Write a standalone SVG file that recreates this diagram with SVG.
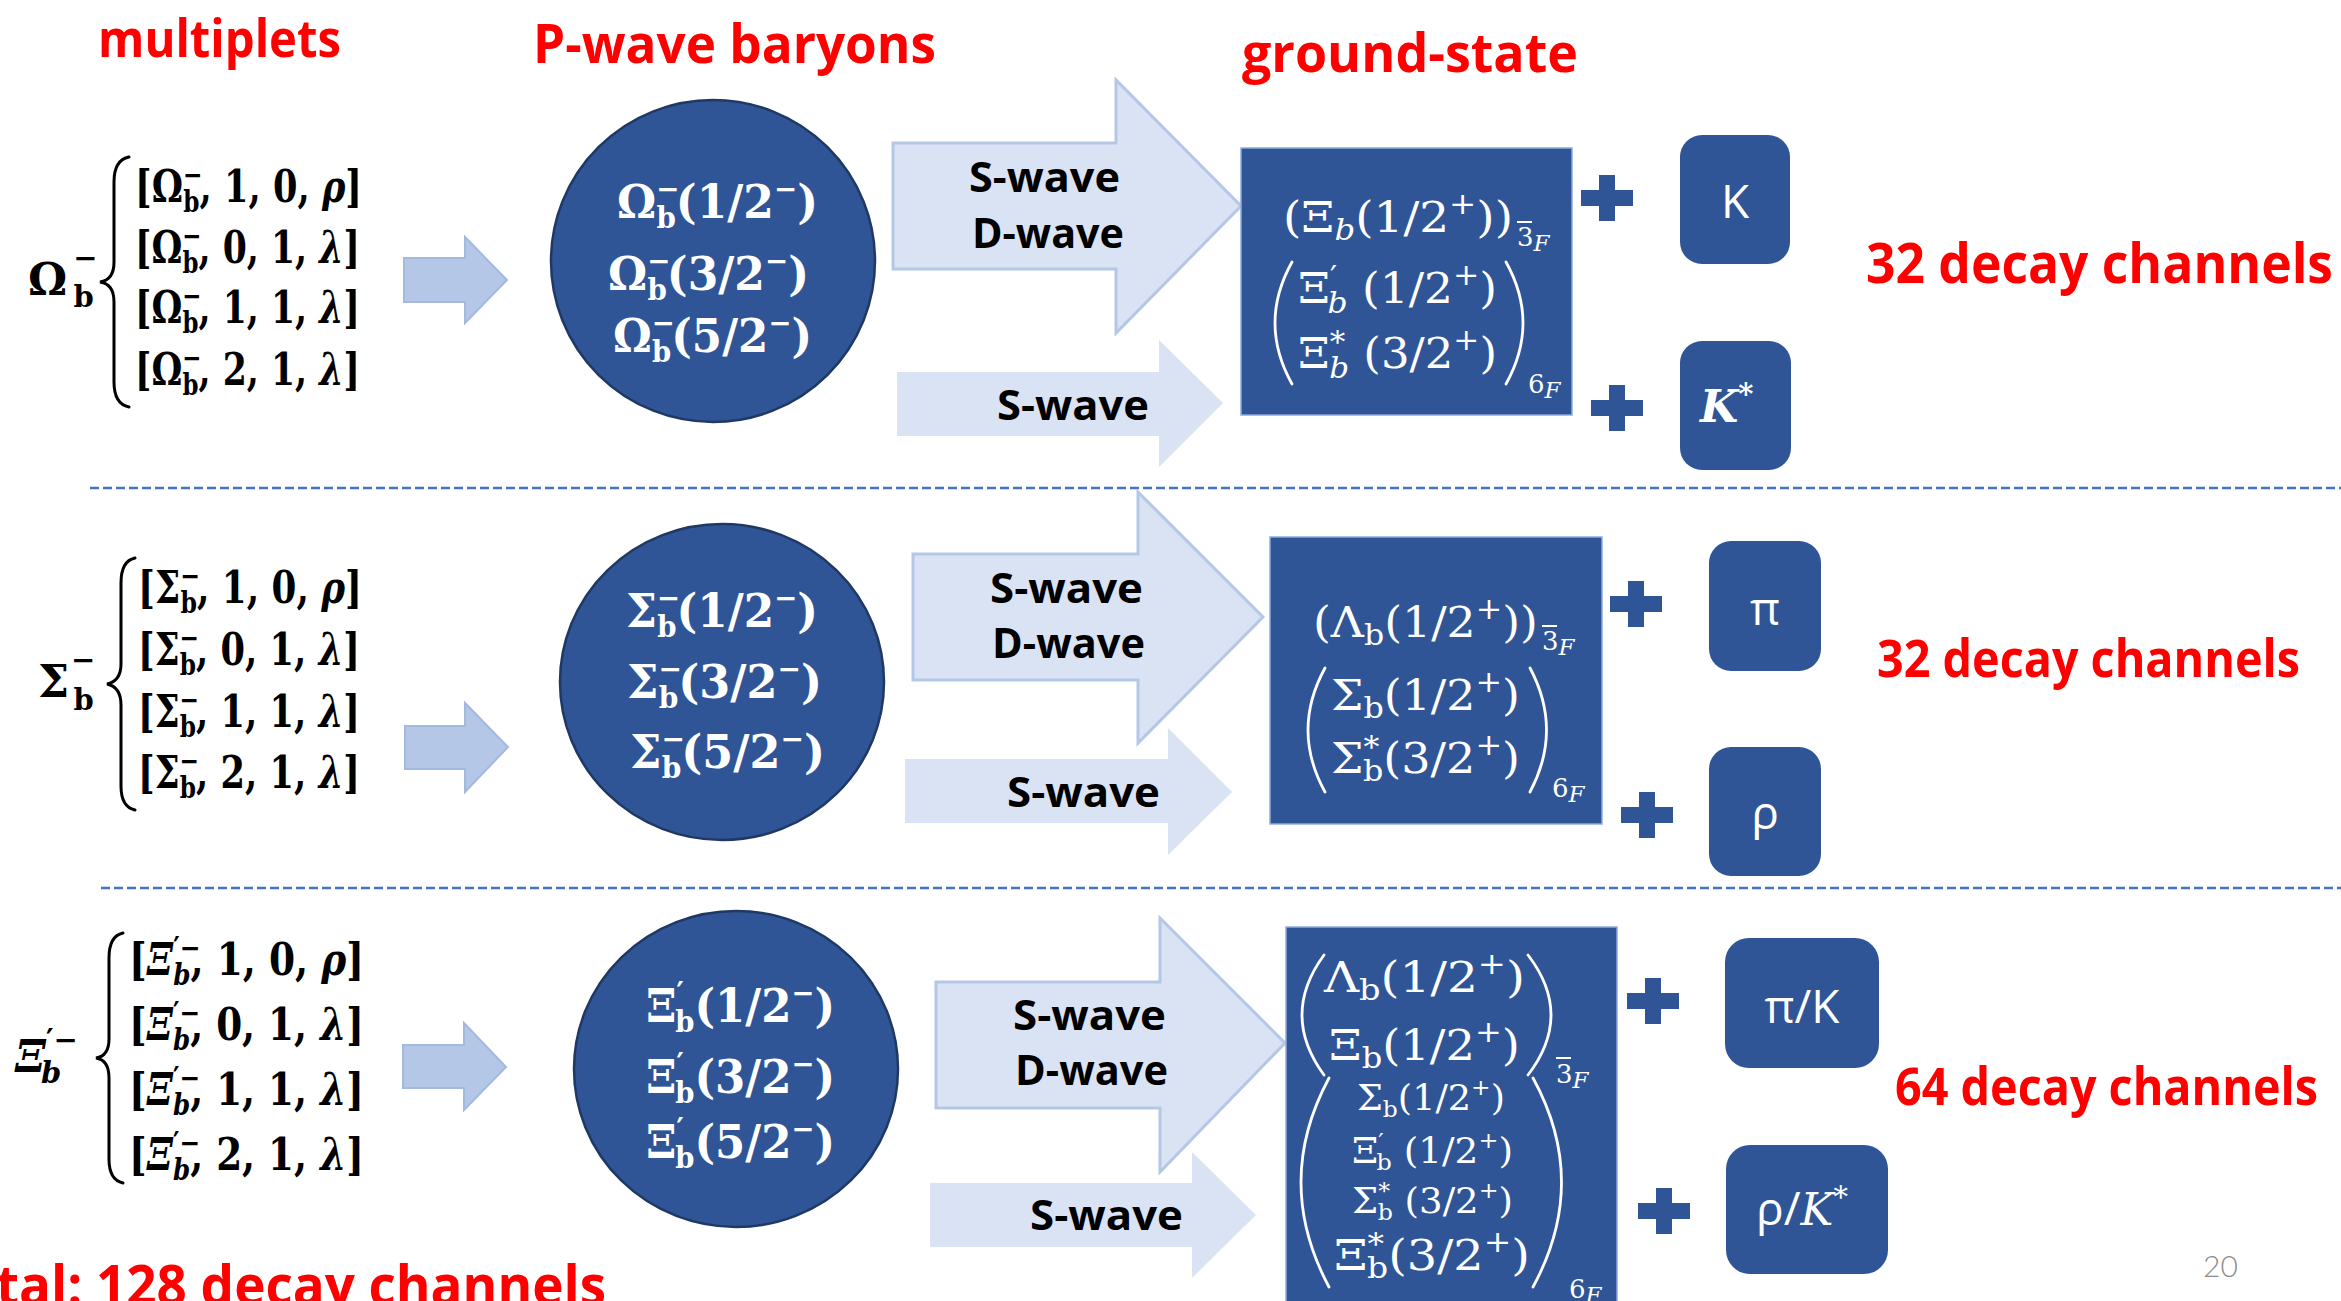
<svg xmlns="http://www.w3.org/2000/svg" width="2341" height="1301" viewBox="0 0 2341 1301">
<style>
.ttl{font-family:"Open Sans","DejaVu Sans",sans-serif;font-weight:700;fill:#FF0000}
.wave{font-family:"Open Sans","DejaVu Sans",sans-serif;font-weight:700;fill:#000;font-size:42px}
.m{font-family:"DejaVu Serif","Liberation Serif",serif}
.lst{font-size:44px;font-weight:700;fill:#000}
.cir{font-size:46px;font-weight:700;fill:#fff}
.bx{font-size:42px;fill:#fff}
.bxs{font-size:36px;fill:#fff}
.s28{font-size:29px}
.s26{font-size:26px}
.s22{font-size:23px}
.it{font-style:italic}
.node{fill:#2F5597}
.circ{fill:#2F5597;stroke:#1F3864;stroke-width:2.5}
.gbox{fill:#2F5597;stroke:#8FAADC;stroke-width:1.5}
.big{fill:#DAE3F3;stroke:#B4C7E7;stroke-width:3}
.small{fill:#DAE3F3}
.left{fill:#B4C7E7;stroke:#A3B9DF;stroke-width:2}
.dash{stroke:#4472C4;stroke-width:2.5;stroke-dasharray:9 4;fill:none}
.delim{fill:none;stroke:#000;stroke-width:3;stroke-linecap:round}
.wdelim{fill:none;stroke:#fff;stroke-width:2.8;stroke-linecap:round}
.meson{font-family:"Open Sans","Lato",sans-serif;fill:#fff;font-size:46px}
.plus{fill:#2F5597}
</style>
<defs>
<path id="plus" d="M-8,-23 H8 V-8 H26 V8 H8 V23 H-8 V8 H-26 V-8 H-8 Z"/>
</defs>

<g id="titles">
<text class="ttl" x="98" y="57" font-size="52" textLength="243" lengthAdjust="spacingAndGlyphs">multiplets</text>
<text class="ttl" x="533" y="63" font-size="54" textLength="403" lengthAdjust="spacingAndGlyphs">P-wave baryons</text>
<text class="ttl" x="1242" y="72" font-size="54" textLength="336" lengthAdjust="spacingAndGlyphs">ground-state</text>
</g>

<g id="separators">
<line class="dash" x1="90" y1="488" x2="2341" y2="488"/>
<line class="dash" x1="101" y1="888" x2="2341" y2="888"/>
</g>

<g id="connectors">
<polygon class="left" points="404,258 465,258 465,237 507,280 465,323 465,302 404,302"/>
<polygon class="left" points="405,726 465,726 465,703 508,747 465,792 465,769 405,769"/>
<polygon class="left" points="403,1045 464,1045 464,1023 506,1067 464,1110 464,1088 403,1088"/>
<polygon class="big" points="893,143 1116,143 1116,80 1241,206 1116,333 1116,269 893,269"/>
<polygon class="small" points="897,372 1159,372 1159,340 1223,403 1159,467 1159,436 897,436"/>
<polygon class="big" points="913,554 1138,554 1138,492 1263,617 1138,743 1138,680 913,680"/>
<polygon class="small" points="905,759 1168,759 1168,728 1232,792 1168,855 1168,823 905,823"/>
<polygon class="big" points="936,982 1160,982 1160,918 1285,1043 1160,1172 1160,1108 936,1108"/>
<polygon class="small" points="930,1183 1192,1183 1192,1152 1256,1215 1192,1278 1192,1247 930,1247"/>
<text class="wave" x="969" y="192" textLength="151" lengthAdjust="spacingAndGlyphs">S-wave</text>
<text class="wave" x="972" y="248" textLength="152" lengthAdjust="spacingAndGlyphs">D-wave</text>
<text class="wave" x="997" y="420" textLength="152" lengthAdjust="spacingAndGlyphs">S-wave</text>
<text class="wave" x="990" y="603" textLength="153" lengthAdjust="spacingAndGlyphs">S-wave</text>
<text class="wave" x="992" y="658" textLength="153" lengthAdjust="spacingAndGlyphs">D-wave</text>
<text class="wave" x="1007" y="807" textLength="153" lengthAdjust="spacingAndGlyphs">S-wave</text>
<text class="wave" x="1013" y="1030" textLength="153" lengthAdjust="spacingAndGlyphs">S-wave</text>
<text class="wave" x="1015" y="1085" textLength="153" lengthAdjust="spacingAndGlyphs">D-wave</text>
<text class="wave" x="1030" y="1230" textLength="153" lengthAdjust="spacingAndGlyphs">S-wave</text>
<use href="#plus" class="plus" x="1607" y="198"/>
<use href="#plus" class="plus" x="1617" y="408"/>
<use href="#plus" class="plus" x="1636" y="604"/>
<use href="#plus" class="plus" x="1647" y="815"/>
<use href="#plus" class="plus" x="1653" y="1001"/>
<use href="#plus" class="plus" x="1664" y="1211"/>
</g>

<!-- Section 1 -->
<g id="multiplet-omega">
<text class="m lst" x="28" y="295">Ω<tspan class="s28" dx="6" dy="-27">−</tspan><tspan class="s28" dx="-24" dy="39">b</tspan></text>
<path class="delim" d="M129,157 Q114,160 114,182 L114,262 Q114,280 100,282 Q114,284 114,302 L114,382 Q114,404 129,407"/>
<text class="m lst" x="135" y="202" textLength="227" lengthAdjust="spacingAndGlyphs">[Ω<tspan class="s28" dy="-17">−</tspan><tspan class="s28" dx="-24" dy="27">b</tspan><tspan dy="-10">, 1, 0, </tspan><tspan class="it">ρ</tspan>]</text>
<text class="m lst" x="135" y="263" textLength="225" lengthAdjust="spacingAndGlyphs">[Ω<tspan class="s28" dy="-17">−</tspan><tspan class="s28" dx="-24" dy="27">b</tspan><tspan dy="-10">, 0, 1, </tspan><tspan class="it">λ</tspan>]</text>
<text class="m lst" x="135" y="323" textLength="225" lengthAdjust="spacingAndGlyphs">[Ω<tspan class="s28" dy="-17">−</tspan><tspan class="s28" dx="-24" dy="27">b</tspan><tspan dy="-10">, 1, 1, </tspan><tspan class="it">λ</tspan>]</text>
<text class="m lst" x="135" y="385" textLength="225" lengthAdjust="spacingAndGlyphs">[Ω<tspan class="s28" dy="-17">−</tspan><tspan class="s28" dx="-24" dy="27">b</tspan><tspan dy="-10">, 2, 1, </tspan><tspan class="it">λ</tspan>]</text>
</g>
<g id="pwave-omega">
<ellipse class="circ" cx="713" cy="261" rx="162" ry="161"/>
<text class="m cir" x="617" y="218" textLength="201" lengthAdjust="spacingAndGlyphs">Ω<tspan class="s28" dy="-19">−</tspan><tspan class="s28" dx="-24" dy="29">b</tspan><tspan dy="-10">(1/2</tspan><tspan class="s28" dy="-19">−</tspan><tspan dy="19">)</tspan></text>
<text class="m cir" x="608" y="290" textLength="201" lengthAdjust="spacingAndGlyphs">Ω<tspan class="s28" dy="-19">−</tspan><tspan class="s28" dx="-24" dy="29">b</tspan><tspan dy="-10">(3/2</tspan><tspan class="s28" dy="-19">−</tspan><tspan dy="19">)</tspan></text>
<text class="m cir" x="613" y="352" textLength="199" lengthAdjust="spacingAndGlyphs">Ω<tspan class="s28" dy="-19">−</tspan><tspan class="s28" dx="-24" dy="29">b</tspan><tspan dy="-10">(5/2</tspan><tspan class="s28" dy="-19">−</tspan><tspan dy="19">)</tspan></text>
</g>
<g id="ground-xi">
<rect class="gbox" x="1241" y="148" width="331" height="267"/>
<text class="m bx" x="1283" y="232" textLength="230" lengthAdjust="spacingAndGlyphs">(Ξ<tspan class="s28 it" dy="8">b</tspan><tspan dy="-8">(1/2</tspan><tspan class="s28" dy="-18">+</tspan><tspan dy="18">))</tspan></text>
<line x1="1517" y1="222" x2="1532" y2="222" stroke="#fff" stroke-width="2"/>
<text class="m s26" x="1517" y="246" fill="#fff">3<tspan class="s22 it" dy="5">F</tspan></text>
<path class="wdelim" d="M1292,262 Q1258,323 1292,384"/>
<path class="wdelim" d="M1506,262 Q1540,323 1506,384"/>
<text class="m bx" x="1298" y="303" textLength="199" lengthAdjust="spacingAndGlyphs">Ξ<tspan class="s28" dy="-16">′</tspan><tspan class="s28 it" dx="-9" dy="26">b</tspan><tspan dy="-10"> (1/2</tspan><tspan class="s28" dy="-18">+</tspan><tspan dy="18">)</tspan></text>
<text class="m bx" x="1298" y="368" textLength="199" lengthAdjust="spacingAndGlyphs">Ξ<tspan class="s28" dy="-16">*</tspan><tspan class="s28 it" dx="-15" dy="26">b</tspan><tspan dy="-10"> (3/2</tspan><tspan class="s28" dy="-18">+</tspan><tspan dy="18">)</tspan></text>
<text class="m s26" x="1528" y="393" fill="#fff">6<tspan class="s22 it" dy="5">F</tspan></text>
</g>
<g id="meson-K">
<rect class="node" x="1680" y="135" width="110" height="129" rx="22"/>
<text class="meson" x="1735" y="218" text-anchor="middle">K</text>
</g>
<g id="meson-Kstar">
<rect class="node" x="1680" y="341" width="111" height="129" rx="22"/>
<text class="m" x="1700" y="422" fill="#fff" font-size="44" font-weight="700" font-style="italic">K<tspan class="s28" dy="-18">*</tspan></text>
</g>
<text class="ttl" x="1866" y="283" font-size="56" textLength="467" lengthAdjust="spacingAndGlyphs">32 decay channels</text>

<!-- Section 2 -->
<g id="multiplet-sigma">
<text class="m lst" x="38" y="697">Σ<tspan class="s28" dx="2" dy="-27">−</tspan><tspan class="s28" dx="-22" dy="40">b</tspan></text>
<path class="delim" d="M135,558 Q121,561 121,583 L121,664 Q121,681 107,684 Q121,687 121,705 L121,786 Q121,807 135,810"/>
<text class="m lst" x="138" y="603" textLength="224" lengthAdjust="spacingAndGlyphs">[Σ<tspan class="s28" dy="-17">−</tspan><tspan class="s28" dx="-24" dy="27">b</tspan><tspan dy="-10">, 1, 0, </tspan><tspan class="it">ρ</tspan>]</text>
<text class="m lst" x="138" y="665" textLength="222" lengthAdjust="spacingAndGlyphs">[Σ<tspan class="s28" dy="-17">−</tspan><tspan class="s28" dx="-24" dy="27">b</tspan><tspan dy="-10">, 0, 1, </tspan><tspan class="it">λ</tspan>]</text>
<text class="m lst" x="138" y="727" textLength="222" lengthAdjust="spacingAndGlyphs">[Σ<tspan class="s28" dy="-17">−</tspan><tspan class="s28" dx="-24" dy="27">b</tspan><tspan dy="-10">, 1, 1, </tspan><tspan class="it">λ</tspan>]</text>
<text class="m lst" x="138" y="788" textLength="222" lengthAdjust="spacingAndGlyphs">[Σ<tspan class="s28" dy="-17">−</tspan><tspan class="s28" dx="-24" dy="27">b</tspan><tspan dy="-10">, 2, 1, </tspan><tspan class="it">λ</tspan>]</text>
</g>
<g id="pwave-sigma">
<ellipse class="circ" cx="722" cy="682" rx="162" ry="158"/>
<text class="m cir" x="626" y="627" textLength="192" lengthAdjust="spacingAndGlyphs">Σ<tspan class="s28" dy="-19">−</tspan><tspan class="s28" dx="-24" dy="29">b</tspan><tspan dy="-10">(1/2</tspan><tspan class="s28" dy="-19">−</tspan><tspan dy="19">)</tspan></text>
<text class="m cir" x="627" y="698" textLength="195" lengthAdjust="spacingAndGlyphs">Σ<tspan class="s28" dy="-19">−</tspan><tspan class="s28" dx="-24" dy="29">b</tspan><tspan dy="-10">(3/2</tspan><tspan class="s28" dy="-19">−</tspan><tspan dy="19">)</tspan></text>
<text class="m cir" x="630" y="768" textLength="195" lengthAdjust="spacingAndGlyphs">Σ<tspan class="s28" dy="-19">−</tspan><tspan class="s28" dx="-24" dy="29">b</tspan><tspan dy="-10">(5/2</tspan><tspan class="s28" dy="-19">−</tspan><tspan dy="19">)</tspan></text>
</g>
<g id="ground-lambda">
<rect class="gbox" x="1270" y="537" width="332" height="287"/>
<text class="m bx" x="1313" y="637" textLength="225" lengthAdjust="spacingAndGlyphs">(Λ<tspan class="s28" dy="8">b</tspan><tspan dy="-8">(1/2</tspan><tspan class="s28" dy="-18">+</tspan><tspan dy="18">))</tspan></text>
<line x1="1542" y1="626" x2="1557" y2="626" stroke="#fff" stroke-width="2"/>
<text class="m s26" x="1542" y="650" fill="#fff">3<tspan class="s22 it" dy="5">F</tspan></text>
<path class="wdelim" d="M1325,668 Q1291,730 1325,792"/>
<path class="wdelim" d="M1530,668 Q1563,730 1530,792"/>
<text class="m bx" x="1331" y="710" textLength="189" lengthAdjust="spacingAndGlyphs">Σ<tspan class="s28" dy="8">b</tspan><tspan dy="-8">(1/2</tspan><tspan class="s28" dy="-18">+</tspan><tspan dy="18">)</tspan></text>
<text class="m bx" x="1331" y="773" textLength="189" lengthAdjust="spacingAndGlyphs">Σ<tspan class="s28" dy="-16">*</tspan><tspan class="s28" dx="-15" dy="24">b</tspan><tspan dy="-8">(3/2</tspan><tspan class="s28" dy="-18">+</tspan><tspan dy="18">)</tspan></text>
<text class="m s26" x="1552" y="797" fill="#fff">6<tspan class="s22 it" dy="5">F</tspan></text>
</g>
<g id="meson-pi">
<rect class="node" x="1709" y="541" width="112" height="130" rx="22"/>
<text class="meson" x="1765" y="625" text-anchor="middle">π</text>
</g>
<g id="meson-rho">
<rect class="node" x="1709" y="747" width="112" height="129" rx="22"/>
<text class="meson" x="1765" y="829" text-anchor="middle">ρ</text>
</g>
<text class="ttl" x="1877" y="677" font-size="52" textLength="423" lengthAdjust="spacingAndGlyphs">32 decay channels</text>

<!-- Section 3 -->
<g id="multiplet-xiprime">
<text class="m lst" x="15" y="1072"><tspan class="it">Ξ</tspan><tspan class="s28" dx="0" dy="-22">′−</tspan><tspan class="s28 it" dx="-37" dy="33">b</tspan></text>
<path class="delim" d="M123,933 Q109,936 109,958 L109,1039 Q109,1056 96,1058 Q109,1060 109,1078 L109,1159 Q109,1180 123,1183"/>
<text class="m lst" x="129" y="975" textLength="235" lengthAdjust="spacingAndGlyphs">[<tspan class="it">Ξ</tspan><tspan class="s28" dy="-17">′−</tspan><tspan class="s28 it" dx="-32" dy="27">b</tspan><tspan dy="-10">, 1, 0, </tspan><tspan class="it">ρ</tspan>]</text>
<text class="m lst" x="129" y="1040" textLength="235" lengthAdjust="spacingAndGlyphs">[<tspan class="it">Ξ</tspan><tspan class="s28" dy="-17">′−</tspan><tspan class="s28 it" dx="-32" dy="27">b</tspan><tspan dy="-10">, 0, 1, </tspan><tspan class="it">λ</tspan>]</text>
<text class="m lst" x="129" y="1105" textLength="235" lengthAdjust="spacingAndGlyphs">[<tspan class="it">Ξ</tspan><tspan class="s28" dy="-17">′−</tspan><tspan class="s28 it" dx="-32" dy="27">b</tspan><tspan dy="-10">, 1, 1, </tspan><tspan class="it">λ</tspan>]</text>
<text class="m lst" x="129" y="1170" textLength="235" lengthAdjust="spacingAndGlyphs">[<tspan class="it">Ξ</tspan><tspan class="s28" dy="-17">′−</tspan><tspan class="s28 it" dx="-32" dy="27">b</tspan><tspan dy="-10">, 2, 1, </tspan><tspan class="it">λ</tspan>]</text>
</g>
<g id="pwave-xiprime">
<ellipse class="circ" cx="736" cy="1069" rx="162" ry="158"/>
<text class="m cir" x="646" y="1022" textLength="189" lengthAdjust="spacingAndGlyphs">Ξ<tspan class="s28" dy="-19">′</tspan><tspan class="s28" dx="-9" dy="29">b</tspan><tspan dy="-10">(1/2</tspan><tspan class="s28" dy="-19">−</tspan><tspan dy="19">)</tspan></text>
<text class="m cir" x="646" y="1093" textLength="189" lengthAdjust="spacingAndGlyphs">Ξ<tspan class="s28" dy="-19">′</tspan><tspan class="s28" dx="-9" dy="29">b</tspan><tspan dy="-10">(3/2</tspan><tspan class="s28" dy="-19">−</tspan><tspan dy="19">)</tspan></text>
<text class="m cir" x="646" y="1158" textLength="189" lengthAdjust="spacingAndGlyphs">Ξ<tspan class="s28" dy="-19">′</tspan><tspan class="s28" dx="-9" dy="29">b</tspan><tspan dy="-10">(5/2</tspan><tspan class="s28" dy="-19">−</tspan><tspan dy="19">)</tspan></text>
</g>
<g id="ground-mixed">
<rect class="gbox" x="1286" y="927" width="331" height="380"/>
<path class="wdelim" d="M1324,955 Q1280,1015 1324,1075"/>
<path class="wdelim" d="M1528,955 Q1574,1015 1528,1075"/>
<text class="m bx" x="1324" y="992" textLength="201" lengthAdjust="spacingAndGlyphs">Λ<tspan class="s28" dy="8">b</tspan><tspan dy="-8">(1/2</tspan><tspan class="s28" dy="-18">+</tspan><tspan dy="18">)</tspan></text>
<text class="m bx" x="1329" y="1060" textLength="191" lengthAdjust="spacingAndGlyphs">Ξ<tspan class="s28" dy="8">b</tspan><tspan dy="-8">(1/2</tspan><tspan class="s28" dy="-18">+</tspan><tspan dy="18">)</tspan></text>
<line x1="1556" y1="1058" x2="1571" y2="1058" stroke="#fff" stroke-width="2"/>
<text class="m s26" x="1556" y="1083" fill="#fff">3<tspan class="s22 it" dy="5">F</tspan></text>
<path class="wdelim" d="M1329,1078 Q1273,1182 1329,1287"/>
<path class="wdelim" d="M1533,1078 Q1590,1182 1533,1287"/>
<text class="m bxs" x="1357" y="1110" textLength="148" lengthAdjust="spacingAndGlyphs">Σ<tspan class="s22" dy="7">b</tspan><tspan dy="-7">(1/2</tspan><tspan class="s22" dy="-15">+</tspan><tspan dy="15">)</tspan></text>
<text class="m bxs" x="1352" y="1163" textLength="161" lengthAdjust="spacingAndGlyphs">Ξ<tspan class="s22" dy="-14">′</tspan><tspan class="s22" dx="-7" dy="21">b</tspan><tspan dy="-7"> (1/2</tspan><tspan class="s22" dy="-15">+</tspan><tspan dy="15">)</tspan></text>
<text class="m bxs" x="1352" y="1213" textLength="161" lengthAdjust="spacingAndGlyphs">Σ<tspan class="s22" dy="-14">*</tspan><tspan class="s22" dx="-12" dy="21">b</tspan><tspan dy="-7"> (3/2</tspan><tspan class="s22" dy="-15">+</tspan><tspan dy="15">)</tspan></text>
<text class="m bx" x="1334" y="1270" textLength="196" lengthAdjust="spacingAndGlyphs">Ξ<tspan class="s28" dy="-16">*</tspan><tspan class="s28" dx="-15" dy="24">b</tspan><tspan dy="-8">(3/2</tspan><tspan class="s28" dy="-18">+</tspan><tspan dy="18">)</tspan></text>
<text class="m s26" x="1569" y="1298" fill="#fff">6<tspan class="s22 it" dy="5">F</tspan></text>
</g>
<g id="meson-piK">
<rect class="node" x="1725" y="938" width="154" height="130" rx="24"/>
<text class="meson" x="1802" y="1023" text-anchor="middle">π/K</text>
</g>
<g id="meson-rhoKstar">
<rect class="node" x="1726" y="1145" width="162" height="129" rx="24"/>
<text class="meson" x="1756" y="1225">ρ/<tspan class="m" font-style="italic" font-size="44">K</tspan><tspan class="m s28" dy="-18">*</tspan></text>
</g>
<text class="ttl" x="1895" y="1105" font-size="52" textLength="423" lengthAdjust="spacingAndGlyphs">64 decay channels</text>

<text class="ttl" x="-4" y="1305" font-size="56" textLength="610" lengthAdjust="spacingAndGlyphs">tal: 128 decay channels</text>
<text x="2203" y="1277" font-family="Lato, 'Open Sans', sans-serif" font-weight="300" font-size="30" fill="#8C8C8C">20</text>
</svg>
